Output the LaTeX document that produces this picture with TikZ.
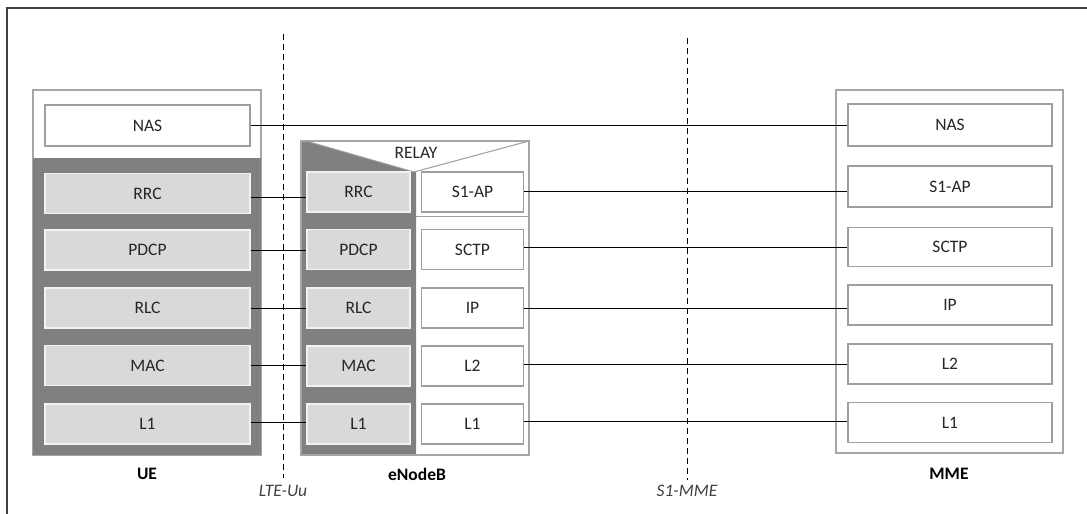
\documentclass[tikz,border=0pt]{standalone}
\usepackage{fontspec}
\setmainfont{Carlito}
\begin{document}
\begin{tikzpicture}[x=1pt,y=-1pt,
  font=\fontsize{17.5}{20}\selectfont,
  frame/.style={draw=black!75, line width=1.5pt},
  grp/.style={draw=black!35, line width=1.1pt},
  dark/.style={fill=black!50},
  wbox/.style={draw=black!38, fill=white, line width=1.1pt, text=black!85, minimum height=40pt, inner sep=0pt},
  gbox/.style={draw=black!5, fill=black!15, line width=1.1pt, text=black!85, minimum height=40pt, inner sep=0pt},
  link/.style={draw=black, line width=1pt},
  iface/.style={draw=black, line width=1pt, dash pattern=on 6pt off 4pt},
  lbl/.style={font=\fontsize{17.5}{20}\selectfont\bfseries, text=black},
  ilbl/.style={font=\fontsize{17.5}{20}\selectfont\itshape, text=black!75}
]
\useasboundingbox (0,0) rectangle (1087,514);
\clip (0,0) rectangle (1087,514);
\fill[white] (0,0) rectangle (1087,514);
\draw[frame] (7,8) rectangle (1100,530);

% UE group
\draw[grp] (33,90) rectangle (261,455);
\fill[dark] (33,158) rectangle (261,455);
% eNodeB group
\fill[dark] (301,141) -- (306,141) -- (414,172) -- (416,172) -- (416,455) -- (301,455) -- cycle;
\draw[grp] (301,141) rectangle (529,455);
\draw[draw=black!38, line width=1pt] (306,141) -- (414,172) -- (529,141);
\draw[draw=black!38, line width=1pt] (416,216) -- (529,216);
\node[text=black!85] (relay) at (416,153) {RELAY};
% MME group
\draw[grp] (836,90) rectangle (1063,453);

% dashed interfaces
\coordinate (uut) at (283,34);
\coordinate (uub) at (283,478);
\coordinate (s1t) at (687,38);
\coordinate (s1b) at (687,480);
\draw[iface] (uut) -- (uub);
\draw[iface] (s1t) -- (s1b);
\node[ilbl] (uulbl) at (283,491) {LTE-Uu};
\node[ilbl] (s1lbl) at (687,491) {S1-MME};

% UE stack
\node[wbox, minimum width=205pt, minimum height=41pt] (uenas) at (147.5,125.5) {NAS};
\node[gbox, minimum width=205pt] (uerrc) at (147.5,193.5) {RRC};
\node[gbox, minimum width=205pt] (uepdcp) at (147.5,250) {PDCP};
\node[gbox, minimum width=205pt] (uerlc) at (147.5,308) {RLC};
\node[gbox, minimum width=205pt] (uemac) at (147.5,365.5) {MAC};
\node[gbox, minimum width=205pt] (uel1) at (147.5,424) {L1};

% eNodeB stacks
\node[gbox, minimum width=103pt] (enrrc) at (358.5,192) {RRC};
\node[gbox, minimum width=103pt] (enpdcp) at (358.5,249.5) {PDCP};
\node[gbox, minimum width=103pt] (enrlc) at (358.5,308) {RLC};
\node[gbox, minimum width=103pt] (enmac) at (358.5,366) {MAC};
\node[gbox, minimum width=103pt] (enl1) at (358.5,424) {L1};
\node[wbox, minimum width=102pt] (ens1ap) at (472.5,192) {S1-AP};
\node[wbox, minimum width=102pt] (ensctp) at (472.5,249.5) {SCTP};
\node[wbox, minimum width=102pt] (enip) at (472.5,308) {IP};
\node[wbox, minimum width=102pt] (enl2) at (472.5,366) {L2};
\node[wbox, minimum width=102pt] (enl1r) at (472.5,424) {L1};

% MME stack
\node[wbox, minimum width=204pt, minimum height=42pt] (mmenas) at (950,125) {NAS};
\node[wbox, minimum width=204pt, minimum height=41pt] (mmes1ap) at (950,186.5) {S1-AP};
\node[wbox, minimum width=204pt, minimum height=39pt] (mmesctp) at (950,247) {SCTP};
\node[wbox, minimum width=204pt] (mmeip) at (950,305) {IP};
\node[wbox, minimum width=204pt] (mmel2) at (950,364) {L2};
\node[wbox, minimum width=204pt] (mmel1) at (950,422.5) {L1};

% labels
\node[lbl] (uelbl) at (147,474) {UE};
\node[lbl] (enblbl) at (417,474) {eNodeB};
\node[lbl] (mmelbl) at (949,474) {MME};

% connectors
\draw[link] (uenas.east) -- (uenas.east -| mmenas.west);
\draw[link] ([yshift=-4pt]uerrc.east) -- ([yshift=-4pt]uerrc.east -| enrrc.west);
\draw[link] (uepdcp.east) -- (uepdcp.east -| enpdcp.west);
\draw[link] (uerlc.east) -- (uerlc.east -| enrlc.west);
\draw[link] (uemac.east) -- (uemac.east -| enmac.west);
\draw[link] ([yshift=2pt]uel1.east) -- ([yshift=2pt]uel1.east -| enl1.west);
\draw[link] ([yshift=1pt]ens1ap.east) -- ([yshift=1pt]ens1ap.east -| mmes1ap.west);
\draw[link] ([yshift=2.5pt]ensctp.east) -- ([yshift=2.5pt]ensctp.east -| mmesctp.west);
\draw[link] (enip.east) -- (enip.east -| mmeip.west);
\draw[link] ([yshift=1.5pt]enl2.east) -- ([yshift=1.5pt]enl2.east -| mmel2.west);
\draw[link] ([yshift=2.5pt]enl1r.east) -- ([yshift=2.5pt]enl1r.east -| mmel1.west);
\end{tikzpicture}
\end{document}
